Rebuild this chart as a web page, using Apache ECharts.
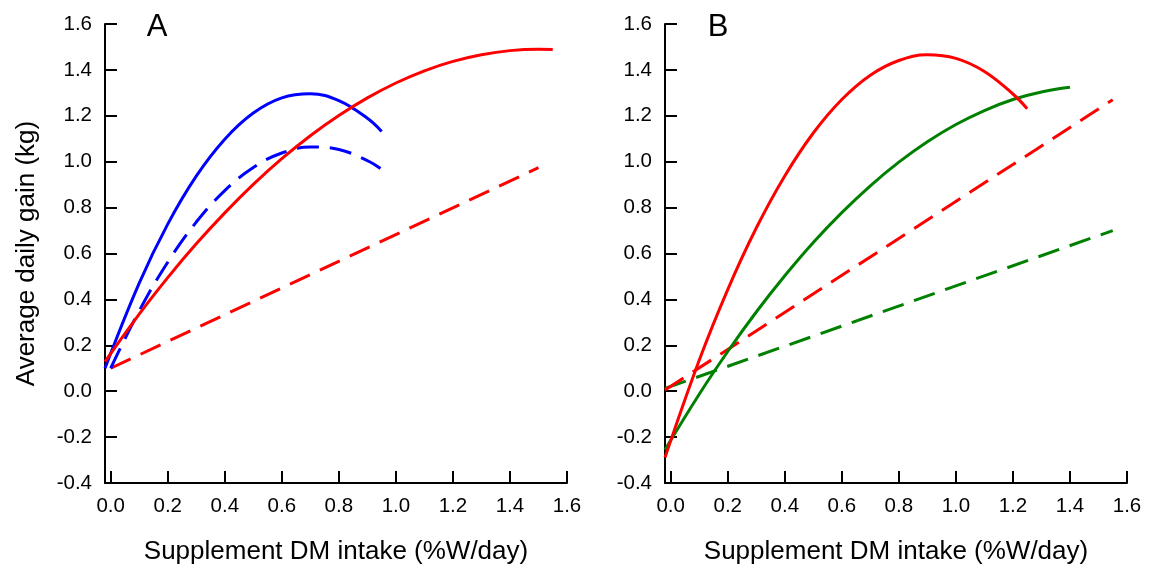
<!DOCTYPE html>
<html>
<head>
<meta charset="utf-8">
<script src="https://cdn.jsdelivr.net/npm/echarts@6/dist/echarts.min.js"></script>
<style>html,body{margin:0;padding:0;background:#fff}#c{width:1152px;height:570px}</style>
</head>
<body>
<div id="c"></div>
<script>
// ---- Data ----
const xTickValues = [0, 0.2, 0.4, 0.6, 0.8, 1.0, 1.2, 1.4, 1.6];
const xTitle = 'Supplement DM intake (%W/day)';
const yTitle = 'Average daily gain (kg)';
const panelLabels = ['A', 'B'];

// Panel A
const aBlueSolidX = [-0.02, 0.1, 0.2, 0.3, 0.4, 0.5, 0.6, 0.7, 0.8, 0.9, 0.95];
const aBlueSolidY = [0.100, 0.471, 0.728, 0.937, 1.098, 1.212, 1.278, 1.296, 1.266, 1.189, 1.132];
const aBlueDashX = [0, 0.1, 0.2, 0.3, 0.4, 0.5, 0.6, 0.7, 0.8, 0.9, 0.95];
const aBlueDashY = [0.100, 0.350, 0.562, 0.737, 0.874, 0.975, 1.038, 1.064, 1.053, 1.005, 0.967];
const aRedSolidX = [-0.02, 0.1, 0.2, 0.3, 0.4, 0.5, 0.6, 0.7, 0.8, 0.9, 1.0, 1.1, 1.2, 1.3, 1.4, 1.5, 1.55];
const aRedSolidY = [0.129, 0.336, 0.495, 0.642, 0.777, 0.901, 1.013, 1.113, 1.201, 1.278, 1.343, 1.396, 1.437, 1.466, 1.484, 1.490, 1.489];
const aRedDashX = [0, 1.5];
const aRedDashY = [0.100, 0.974];

// Panel B
const bRedSolidX = [-0.02, 0.1, 0.2, 0.3, 0.4, 0.5, 0.6, 0.7, 0.8, 0.9, 1.0, 1.1, 1.2, 1.25];
const bRedSolidY = [-0.289, 0.135, 0.443, 0.711, 0.938, 1.125, 1.271, 1.377, 1.441, 1.466, 1.450, 1.393, 1.295, 1.231];
const bGreenSolidX = [-0.02, 0.1, 0.2, 0.3, 0.4, 0.5, 0.6, 0.7, 0.8, 0.9, 1.0, 1.1, 1.2, 1.3, 1.4];
const bGreenSolidY = [-0.255, -0.013, 0.173, 0.345, 0.503, 0.648, 0.778, 0.895, 0.998, 1.087, 1.162, 1.223, 1.271, 1.304, 1.324];
const bRedDashX = [-0.02, 1.55];
const bRedDashY = [0.005, 1.270];
const bGreenDashX = [-0.02, 1.55];
const bGreenDashY = [0.012, 0.700];

// ---- Styling ----
const FONT = 'Arial, "Liberation Sans", sans-serif';
const RED = '#ff0000', BLUE = '#0000ff', GREEN = '#008000';
const zip = (xs, ys) => xs.map((x, i) => [x, ys[i]]);

function xAxisCfg(gi) {
  return {
    type: 'value', gridIndex: gi, min: -0.02, max: 1.6,
    axisLine: { show: true, onZero: false, lineStyle: { color: '#000', width: 2 } },
    axisTick: { show: true, inside: true, length: 12, customValues: xTickValues, lineStyle: { color: '#000', width: 2 } },
    axisLabel: { customValues: xTickValues, formatter: v => Number(v).toFixed(1), fontSize: 20.5, color: '#000', margin: 13, fontFamily: FONT },
    splitLine: { show: false },
    name: xTitle, nameLocation: 'middle', nameGap: 56,
    nameTextStyle: { fontSize: 26, color: '#000', fontFamily: FONT }
  };
}
function yAxisCfg(gi, withName) {
  const c = {
    type: 'value', gridIndex: gi, min: -0.4, max: 1.6, interval: 0.2,
    axisLine: { show: true, onZero: false, lineStyle: { color: '#000', width: 2 } },
    axisTick: { show: true, inside: true, length: 12, lineStyle: { color: '#000', width: 2 } },
    axisLabel: { formatter: v => Number(v).toFixed(1), fontSize: 20.5, color: '#000', margin: 13, fontFamily: FONT },
    splitLine: { show: false }
  };
  if (withName) {
    c.name = yTitle; c.nameLocation = 'middle'; c.nameGap = 65;
    c.nameTextStyle = { fontSize: 26, color: '#000', fontFamily: FONT };
  }
  return c;
}
function line(gi, xs, ys, color, dashed, smooth) {
  return {
    type: 'line', xAxisIndex: gi, yAxisIndex: gi, data: zip(xs, ys),
    showSymbol: false, symbol: 'none', smooth: smooth ? 0.4 : false,
    lineStyle: { color: color, width: 3, type: dashed ? [22, 11] : 'solid' },
    silent: true, animation: false
  };
}

const chart = echarts.init(document.getElementById('c'), null, { renderer: 'canvas' });
chart.setOption({
  backgroundColor: '#fff',
  animation: false,
  grid: [
    { left: 105, top: 24, width: 462, height: 461 },
    { left: 665, top: 24, width: 462, height: 461 }
  ],
  xAxis: [xAxisCfg(0), xAxisCfg(1)],
  yAxis: [yAxisCfg(0, true), yAxisCfg(1, false)],
  graphic: [
    { type: 'text', x: 157, y: 27, style: { text: panelLabels[0], fontSize: 31, fill: '#000', fontFamily: FONT, textAlign: 'center', textVerticalAlign: 'middle' } },
    { type: 'text', x: 718, y: 27, style: { text: panelLabels[1], fontSize: 31, fill: '#000', fontFamily: FONT, textAlign: 'center', textVerticalAlign: 'middle' } }
  ],
  series: [
    line(0, aRedDashX, aRedDashY, RED, true, false),
    line(0, aBlueDashX, aBlueDashY, BLUE, true, true),
    line(0, aBlueSolidX, aBlueSolidY, BLUE, false, true),
    line(0, aRedSolidX, aRedSolidY, RED, false, true),
    line(1, bGreenDashX, bGreenDashY, GREEN, true, false),
    line(1, bRedDashX, bRedDashY, RED, true, false),
    line(1, bGreenSolidX, bGreenSolidY, GREEN, false, true),
    line(1, bRedSolidX, bRedSolidY, RED, false, true)
  ]
});
</script>
</body>
</html>
